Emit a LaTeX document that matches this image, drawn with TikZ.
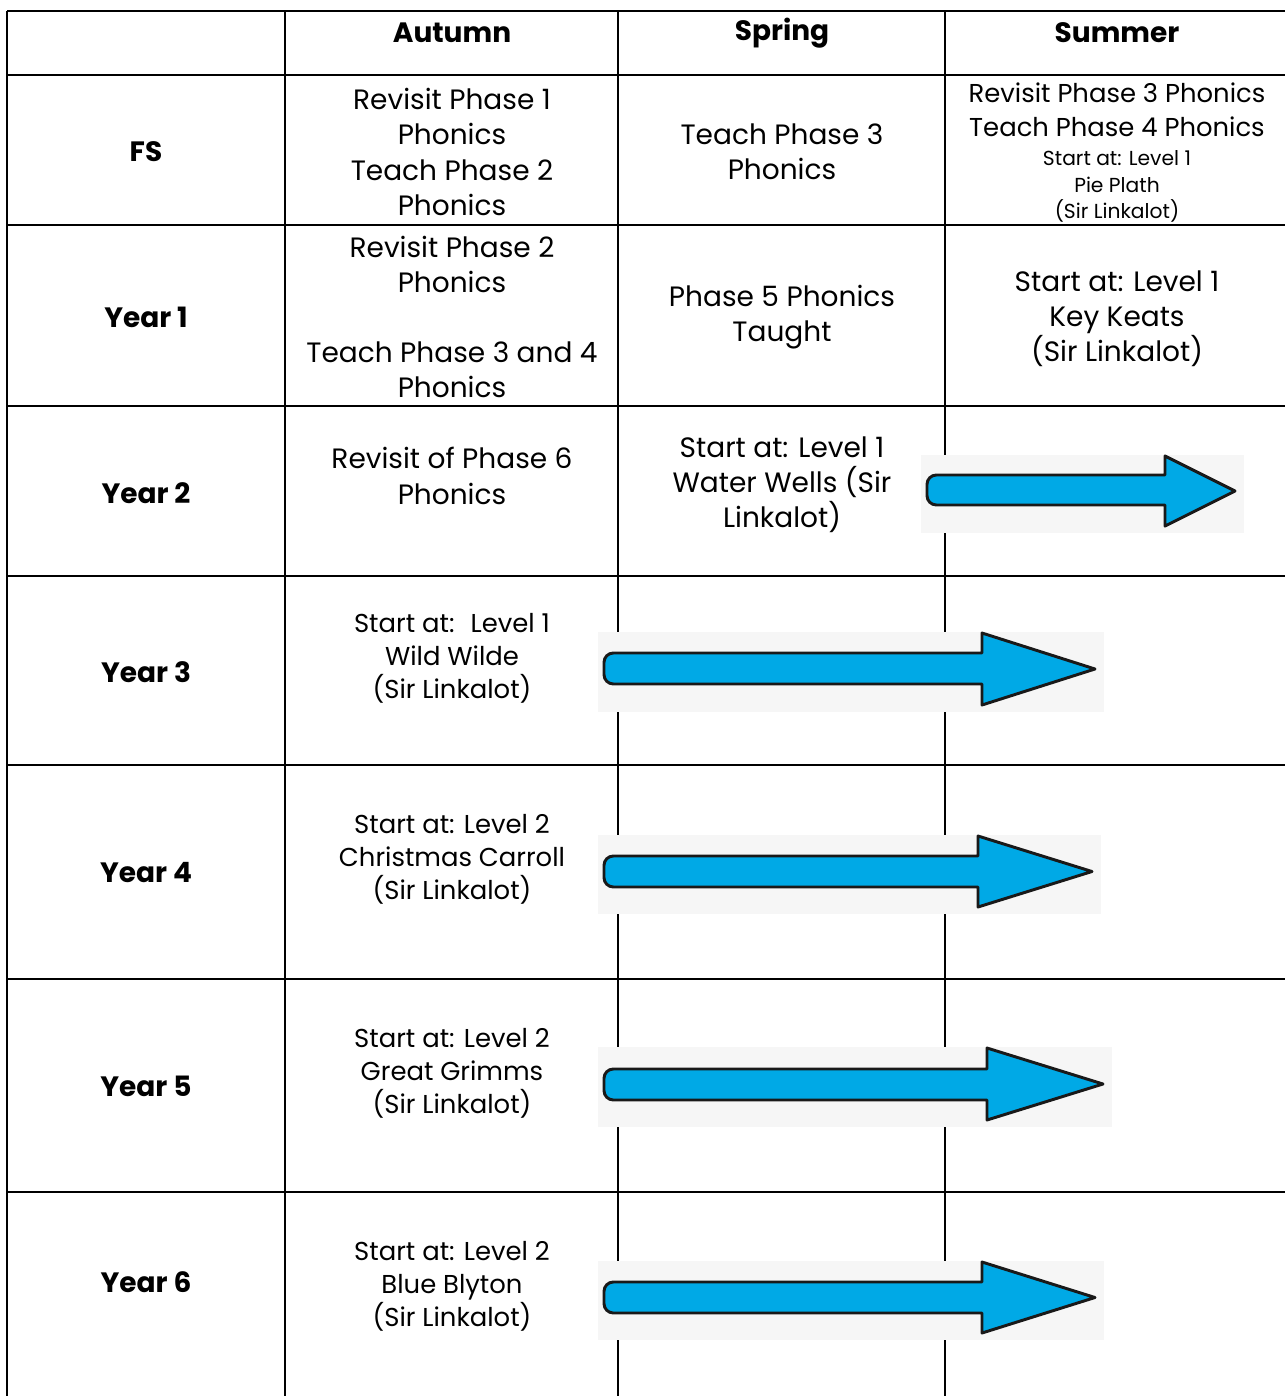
\documentclass[tikz,border=0pt]{standalone}
\usepackage{fontspec}
\setmainfont{Poppins}
\usepackage{xcolor}
\definecolor{arrowblue}{HTML}{00A9E6}
\definecolor{arrowback}{HTML}{F6F6F6}
\usepackage{tikz}
\usetikzlibrary{positioning}
\newcommand\bigtxt{\fontsize{21}{26.4}\selectfont}
\newcommand\midtxt{\fontsize{19.4}{24.8}\selectfont}
\newcommand\smalltxt{\fontsize{15.2}{20.2}\selectfont}
\tikzstyle{tablerule} = [line width=1.7pt, black]
\tikzstyle{cellbig}   = [align=center, inner sep=0pt, font=\bigtxt]
\tikzstyle{cellsmall} = [cellbig, font=\midtxt]
\tikzstyle{cellhead}  = [cellbig, font=\bigtxt\bfseries]
\tikzstyle{arrowbody} = [fill=arrowblue, draw=black!90, line width=2.2pt, line join=round]
% #1 left, #2/#3 shaft top/bottom, #4 head base, #5/#6 head top/bottom, #7 tip
\newcommand\termarrow[7]{%
  \fill[arrowback] (#1-6,#5-1) rectangle (#7+9,#6+7);
  \draw[arrowbody] (#4,#2) -- (#4,#5) -- (#7,{(#5+#6)/2}) -- (#4,#6) -- (#4,#3)
    [rounded corners=7pt] -- (#1,#3) -- (#1,#2) [sharp corners] -- cycle;}

\begin{document}
\begin{tikzpicture}[x=0.75pt, y=-0.75pt]
  \useasboundingbox (0,0) rectangle (1285,1396);

  % table rules
  \draw[tablerule] (7,11) -- (1285,11);
  \draw[tablerule] (7,75) -- (1285,75);
  \draw[tablerule] (7,225) -- (1285,225);
  \draw[tablerule] (7,406) -- (1285,406);
  \draw[tablerule] (7,576) -- (1285,576);
  \draw[tablerule] (7,765) -- (1285,765);
  \draw[tablerule] (7,979) -- (1285,979);
  \draw[tablerule] (7,1192) -- (1285,1192);
  \draw[tablerule] (7,11) -- (7,1396);
  \draw[tablerule] (285,11) -- (285,1396);
  \draw[tablerule] (618,11) -- (618,1396);
  \draw[tablerule] (945,11) -- (945,1396);

  % headers
  \node[cellhead] (autumn) at (452,33) {Autumn};
  \node[cellhead] (spring) at (782,33) {Spring};
  \node[cellhead] (summer) at (1117,33) {Summer};

  % year groups
  \node[cellhead] (fs) at (146,152) {FS};
  \node[cellhead] (y1) at (146,317) {Year 1};
  \node[cellhead] (y2) at (146,493) {Year 2};
  \node[cellhead] (y3) at (146,672) {Year 3};
  \node[cellhead] (y4) at (146,873) {Year 4};
  \node[cellhead] (y5) at (146,1086) {Year 5};
  \node[cellhead] (y6) at (146,1282) {Year 6};

  % FS
  \node[cellbig] (fsaut) at (452,152) {Revisit Phase 1\\Phonics\\Teach Phase 2\\Phonics};
  \node[cellbig] (fsspr) at (782,152) {Teach Phase 3\\Phonics};
  \node[cellsmall] (fssum) at (1117,153) {Revisit Phase 3 Phonics\\
    Teach Phase 4 Phonics\\[-3pt] \smalltxt Start at: Level 1\\[-4.6pt]
    \smalltxt Pie Plath\\[-4.6pt] \smalltxt (Sir Linkalot)};

  % Year 1
  \node[cellbig] (y1aut) at (452,317) {Revisit Phase 2\\Phonics\\[26.4pt]Teach Phase 3 and 4\\Phonics};
  \node[cellbig] (y1spr) at (782,317) {Phase 5 Phonics\\Taught};
  \node[cellbig] (y1sum) at (1117,319) {Start at: Level 1\\Key Keats\\(Sir Linkalot)};

  % Year 2
  \node[cellbig] (y2aut) at (452,476) {Revisit of Phase 6\\Phonics};
  \node[cellbig] (y2spr) at (782,485) {Start at: Level 1\\Water Wells (Sir\\Linkalot)};

  % Year 3 - 6
  \node[cellsmall] (y3aut) at (452,658) {Start at:~ Level 1\\Wild Wilde\\(Sir Linkalot)};
  \node[cellsmall] (y4aut) at (452,859) {Start at: Level 2\\Christmas Carroll\\(Sir Linkalot)};
  \node[cellsmall] (y5aut) at (452,1073) {Start at: Level 2\\Great Grimms\\(Sir Linkalot)};
  \node[cellsmall] (y6aut) at (452,1286) {Start at: Level 2\\Blue Blyton\\(Sir Linkalot)};

  % carried-on arrows
  \termarrow{927}{475}{505}{1165}{456}{526}{1235}
  \termarrow{604}{653}{684}{982}{633}{705}{1095}
  \termarrow{604}{856}{887}{978}{836}{907}{1092}
  \termarrow{604}{1069}{1100}{987}{1048}{1120}{1103}
  \termarrow{604}{1282}{1313}{982}{1262}{1333}{1095}
\end{tikzpicture}
\end{document}
